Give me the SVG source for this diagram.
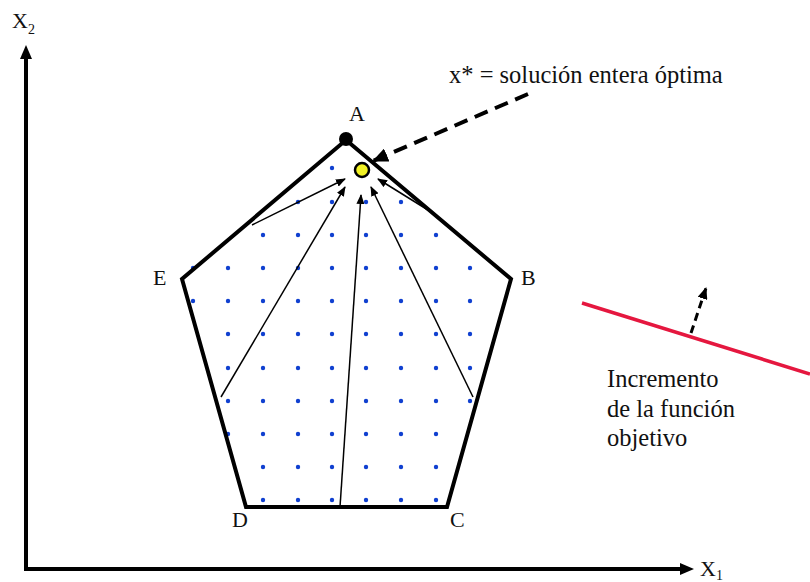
<svg xmlns="http://www.w3.org/2000/svg" width="810" height="582" viewBox="0 0 810 582">
<style>
text{font-family:"Liberation Serif","Times New Roman",serif;fill:#111}
.lbl{font-size:22px}
.txt{font-size:24.5px}
.sub{font-size:14px}
.dot{fill:#1040d0}
.thin{stroke:#000;stroke-width:1.5;fill:none}
.axis{stroke:#000;stroke-width:4;fill:none}
</style>
<defs>
<marker id="ah" markerWidth="10" markerHeight="8" refX="9" refY="4" orient="auto" markerUnits="userSpaceOnUse"><path d="M0,0 L10,4 L0,8 Z" fill="#000"/></marker>
<marker id="ahBig" markerWidth="16" markerHeight="14" refX="15" refY="7" orient="auto" markerUnits="userSpaceOnUse"><path d="M0,0 L16,7 L0,14 Z" fill="#000"/></marker>
<marker id="ahMed" markerWidth="12" markerHeight="10" refX="11" refY="5" orient="auto" markerUnits="userSpaceOnUse"><path d="M0,0 L12,5 L0,10 Z" fill="#000"/></marker>
</defs>
<g id="axes">
<path class="axis" d="M26,569 L26,58"/>
<path d="M20,59 L26,45 L32,59 Z" fill="#000"/>
<path class="axis" d="M24,569 L682,569"/>
<path d="M680,563 L694,569 L680,575 Z" fill="#000"/>
<text class="lbl" x="12" y="28">X</text><text class="sub" x="28" y="34">2</text>
<text class="lbl" x="700" y="576">X</text><text class="sub" x="716" y="580">1</text>
</g>
<g id="dots">
<circle class="dot" cx="332" cy="168" r="2.2"/>
<circle class="dot" cx="298" cy="202" r="2.2"/><circle class="dot" cx="332" cy="202" r="2.2"/><circle class="dot" cx="366" cy="202" r="2.2"/><circle class="dot" cx="401" cy="202" r="2.2"/>
<circle class="dot" cx="263" cy="235" r="2.2"/><circle class="dot" cx="298" cy="235" r="2.2"/><circle class="dot" cx="332" cy="235" r="2.2"/><circle class="dot" cx="366" cy="235" r="2.2"/><circle class="dot" cx="401" cy="235" r="2.2"/><circle class="dot" cx="436" cy="235" r="2.2"/>
<circle class="dot" cx="193" cy="268" r="2.2"/><circle class="dot" cx="228" cy="268" r="2.2"/><circle class="dot" cx="263" cy="268" r="2.2"/><circle class="dot" cx="298" cy="268" r="2.2"/><circle class="dot" cx="332" cy="268" r="2.2"/><circle class="dot" cx="366" cy="268" r="2.2"/><circle class="dot" cx="401" cy="268" r="2.2"/><circle class="dot" cx="436" cy="268" r="2.2"/><circle class="dot" cx="470" cy="268" r="2.2"/>
<circle class="dot" cx="193" cy="301" r="2.2"/><circle class="dot" cx="228" cy="301" r="2.2"/><circle class="dot" cx="263" cy="301" r="2.2"/><circle class="dot" cx="298" cy="301" r="2.2"/><circle class="dot" cx="332" cy="301" r="2.2"/><circle class="dot" cx="366" cy="301" r="2.2"/><circle class="dot" cx="401" cy="301" r="2.2"/><circle class="dot" cx="436" cy="301" r="2.2"/><circle class="dot" cx="470" cy="301" r="2.2"/>
<circle class="dot" cx="228" cy="334" r="2.2"/><circle class="dot" cx="263" cy="334" r="2.2"/><circle class="dot" cx="298" cy="334" r="2.2"/><circle class="dot" cx="332" cy="334" r="2.2"/><circle class="dot" cx="366" cy="334" r="2.2"/><circle class="dot" cx="401" cy="334" r="2.2"/><circle class="dot" cx="436" cy="334" r="2.2"/><circle class="dot" cx="470" cy="334" r="2.2"/>
<circle class="dot" cx="228" cy="368" r="2.2"/><circle class="dot" cx="263" cy="368" r="2.2"/><circle class="dot" cx="298" cy="368" r="2.2"/><circle class="dot" cx="332" cy="368" r="2.2"/><circle class="dot" cx="366" cy="368" r="2.2"/><circle class="dot" cx="401" cy="368" r="2.2"/><circle class="dot" cx="436" cy="368" r="2.2"/><circle class="dot" cx="470" cy="368" r="2.2"/>
<circle class="dot" cx="228" cy="401" r="2.2"/><circle class="dot" cx="263" cy="401" r="2.2"/><circle class="dot" cx="298" cy="401" r="2.2"/><circle class="dot" cx="332" cy="401" r="2.2"/><circle class="dot" cx="366" cy="401" r="2.2"/><circle class="dot" cx="401" cy="401" r="2.2"/><circle class="dot" cx="436" cy="401" r="2.2"/><circle class="dot" cx="470" cy="401" r="2.2"/>
<circle class="dot" cx="228" cy="434" r="2.2"/><circle class="dot" cx="263" cy="434" r="2.2"/><circle class="dot" cx="298" cy="434" r="2.2"/><circle class="dot" cx="332" cy="434" r="2.2"/><circle class="dot" cx="366" cy="434" r="2.2"/><circle class="dot" cx="401" cy="434" r="2.2"/><circle class="dot" cx="436" cy="434" r="2.2"/>
<circle class="dot" cx="263" cy="467" r="2.2"/><circle class="dot" cx="298" cy="467" r="2.2"/><circle class="dot" cx="332" cy="467" r="2.2"/><circle class="dot" cx="366" cy="467" r="2.2"/><circle class="dot" cx="401" cy="467" r="2.2"/><circle class="dot" cx="436" cy="467" r="2.2"/>
<circle class="dot" cx="263" cy="500" r="2.2"/><circle class="dot" cx="298" cy="500" r="2.2"/><circle class="dot" cx="332" cy="500" r="2.2"/><circle class="dot" cx="366" cy="500" r="2.2"/><circle class="dot" cx="401" cy="500" r="2.2"/><circle class="dot" cx="436" cy="500" r="2.2"/>
</g>
<g id="polygon">
<path d="M346,140 L511,279 L447,507 L246,507 L182,279 Z" fill="none" stroke="#000" stroke-width="4" stroke-linejoin="miter"/>
</g>
<g id="connectors">
<path class="thin" d="M252,225 L345,179" marker-end="url(#ah)"/>
<path class="thin" d="M221,397 L345,187" marker-end="url(#ah)"/>
<path class="thin" d="M340,507 L361,195" marker-end="url(#ah)"/>
<path class="thin" d="M473,397 L371,187" marker-end="url(#ah)"/>
<path class="thin" d="M428,210 L378,179" marker-end="url(#ah)"/>
<path d="M528,94 L373,161" fill="none" stroke="#000" stroke-width="4" stroke-dasharray="14,8" marker-end="url(#ahBig)"/>
<path d="M691,333 L706,288" fill="none" stroke="#000" stroke-width="3" stroke-dasharray="8,5" marker-end="url(#ahMed)"/>
</g>
<g id="objective-line">
<path d="M582,303 L810,374" stroke="#e5173f" stroke-width="3.5" fill="none"/>
</g>
<g id="node-A">
<circle cx="346" cy="139" r="7" fill="#000"/>
<text class="lbl" x="349" y="121">A</text>
</g>
<g id="node-xstar">
<circle cx="362" cy="170" r="7" fill="#f2f226" stroke="#000" stroke-width="2.5"/>
</g>
<g id="node-B"><text class="lbl" x="521" y="285">B</text></g>
<g id="node-C"><text class="lbl" x="450" y="527">C</text></g>
<g id="node-D"><text class="lbl" x="232" y="527">D</text></g>
<g id="node-E"><text class="lbl" x="153" y="285">E</text></g>
<g id="labels">
<text class="txt" x="449" y="83">x* = solución entera óptima</text>
<text class="txt" x="607" y="387">Incremento</text>
<text class="txt" x="607" y="417">de la función</text>
<text class="txt" x="607" y="446">objetivo</text>
</g>
</svg>
